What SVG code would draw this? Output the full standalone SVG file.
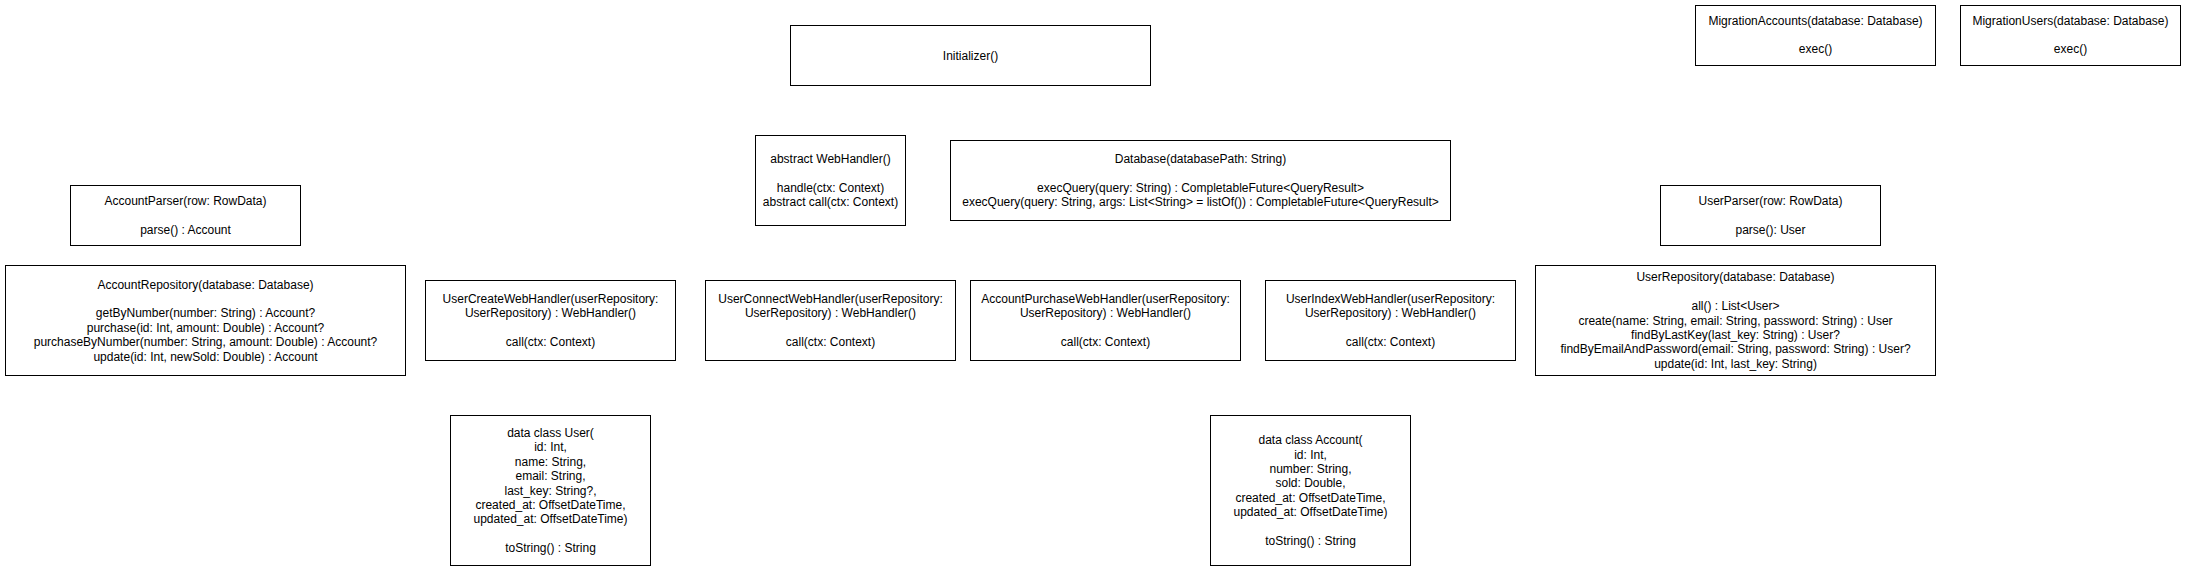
<svg xmlns="http://www.w3.org/2000/svg" width="2186" height="571" viewBox="0 0 2186 571">
<style>
rect.n{fill:#fff;stroke:#000;stroke-width:1}
text{font-family:"Liberation Sans",Arial,Helvetica,sans-serif;font-size:12px;fill:#000;text-anchor:middle;dominant-baseline:central}
</style>
<rect width="2186" height="571" fill="#fff"/>
<g id="connectors"/>
<g id="initializer"><rect class="n" x="790.5" y="25.5" width="360" height="60"/><text x="970.5" y="55.5">Initializer()</text></g>
<g id="migrationAccounts"><rect class="n" x="1695.5" y="5.5" width="240" height="60"/><text x="1815.5" y="20.6">MigrationAccounts(database: Database)<tspan x="1815.5" dy="28.8">exec()</tspan></text></g>
<g id="migrationUsers"><rect class="n" x="1960.5" y="5.5" width="220" height="60"/><text x="2070.5" y="20.6">MigrationUsers(database: Database)<tspan x="2070.5" dy="28.8">exec()</tspan></text></g>
<g id="webHandler"><rect class="n" x="755.5" y="135.5" width="150" height="90"/><text x="830.5" y="158.9">abstract WebHandler()<tspan x="830.5" dy="28.8">handle(ctx: Context)</tspan><tspan x="830.5" dy="14.4">abstract call(ctx: Context)</tspan></text></g>
<g id="database"><rect class="n" x="950.5" y="140.5" width="500" height="80"/><text x="1200.5" y="158.9">Database(databasePath: String)<tspan x="1200.5" dy="28.8">execQuery(query: String) : CompletableFuture&lt;QueryResult&gt;</tspan><tspan x="1200.5" dy="14.4">execQuery(query: String, args: List&lt;String&gt; = listOf()) : CompletableFuture&lt;QueryResult&gt;</tspan></text></g>
<g id="accountParser"><rect class="n" x="70.5" y="185.5" width="230" height="60"/><text x="185.5" y="201.1">AccountParser(row: RowData)<tspan x="185.5" dy="28.8">parse() : Account</tspan></text></g>
<g id="userParser"><rect class="n" x="1660.5" y="185.5" width="220" height="60"/><text x="1770.5" y="201.1">UserParser(row: RowData)<tspan x="1770.5" dy="28.8">parse(): User</tspan></text></g>
<g id="accountRepository"><rect class="n" x="5.5" y="265.5" width="400" height="110"/><text x="205.5" y="284.5">AccountRepository(database: Database)<tspan x="205.5" dy="28.8">getByNumber(number: String) : Account?</tspan><tspan x="205.5" dy="14.4">purchase(id: Int, amount: Double) : Account?</tspan><tspan x="205.5" dy="14.4">purchaseByNumber(number: String, amount: Double) : Account?</tspan><tspan x="205.5" dy="14.4">update(id: Int, newSold: Double) : Account</tspan></text></g>
<g id="userRepository"><rect class="n" x="1535.5" y="265.5" width="400" height="110"/><text x="1735.5" y="277.3">UserRepository(database: Database)<tspan x="1735.5" dy="28.8">all() : List&lt;User&gt;</tspan><tspan x="1735.5" dy="14.4">create(name: String, email: String, password: String) : User</tspan><tspan x="1735.5" dy="14.4">findByLastKey(last_key: String) : User?</tspan><tspan x="1735.5" dy="14.4">findByEmailAndPassword(email: String, password: String) : User?</tspan><tspan x="1735.5" dy="14.4">update(id: Int, last_key: String)</tspan></text></g>
<g id="userCreateWebHandler"><rect class="n" x="425.5" y="280.5" width="250" height="80"/><text x="550.5" y="298.9">UserCreateWebHandler(userRepository:<tspan x="550.5" dy="14.4">UserRepository) : WebHandler()</tspan><tspan x="550.5" dy="28.8">call(ctx: Context)</tspan></text></g>
<g id="userConnectWebHandler"><rect class="n" x="705.5" y="280.5" width="250" height="80"/><text x="830.5" y="298.9">UserConnectWebHandler(userRepository:<tspan x="830.5" dy="14.4">UserRepository) : WebHandler()</tspan><tspan x="830.5" dy="28.8">call(ctx: Context)</tspan></text></g>
<g id="accountPurchaseWebHandler"><rect class="n" x="970.5" y="280.5" width="270" height="80"/><text x="1105.5" y="298.9">AccountPurchaseWebHandler(userRepository:<tspan x="1105.5" dy="14.4">UserRepository) : WebHandler()</tspan><tspan x="1105.5" dy="28.8">call(ctx: Context)</tspan></text></g>
<g id="userIndexWebHandler"><rect class="n" x="1265.5" y="280.5" width="250" height="80"/><text x="1390.5" y="298.9">UserIndexWebHandler(userRepository:<tspan x="1390.5" dy="14.4">UserRepository) : WebHandler()</tspan><tspan x="1390.5" dy="28.8">call(ctx: Context)</tspan></text></g>
<g id="userData"><rect class="n" x="450.5" y="415.5" width="200" height="150"/><text x="550.5" y="432.9">data class User(<tspan x="550.5" dy="14.4">id: Int,</tspan><tspan x="550.5" dy="14.4">name: String,</tspan><tspan x="550.5" dy="14.4">email: String,</tspan><tspan x="550.5" dy="14.4">last_key: String?,</tspan><tspan x="550.5" dy="14.4">created_at: OffsetDateTime,</tspan><tspan x="550.5" dy="14.4">updated_at: OffsetDateTime)</tspan><tspan x="550.5" dy="28.8">toString() : String</tspan></text></g>
<g id="accountData"><rect class="n" x="1210.5" y="415.5" width="200" height="150"/><text x="1310.5" y="440.1">data class Account(<tspan x="1310.5" dy="14.4">id: Int,</tspan><tspan x="1310.5" dy="14.4">number: String,</tspan><tspan x="1310.5" dy="14.4">sold: Double,</tspan><tspan x="1310.5" dy="14.4">created_at: OffsetDateTime,</tspan><tspan x="1310.5" dy="14.4">updated_at: OffsetDateTime)</tspan><tspan x="1310.5" dy="28.8">toString() : String</tspan></text></g>
</svg>
